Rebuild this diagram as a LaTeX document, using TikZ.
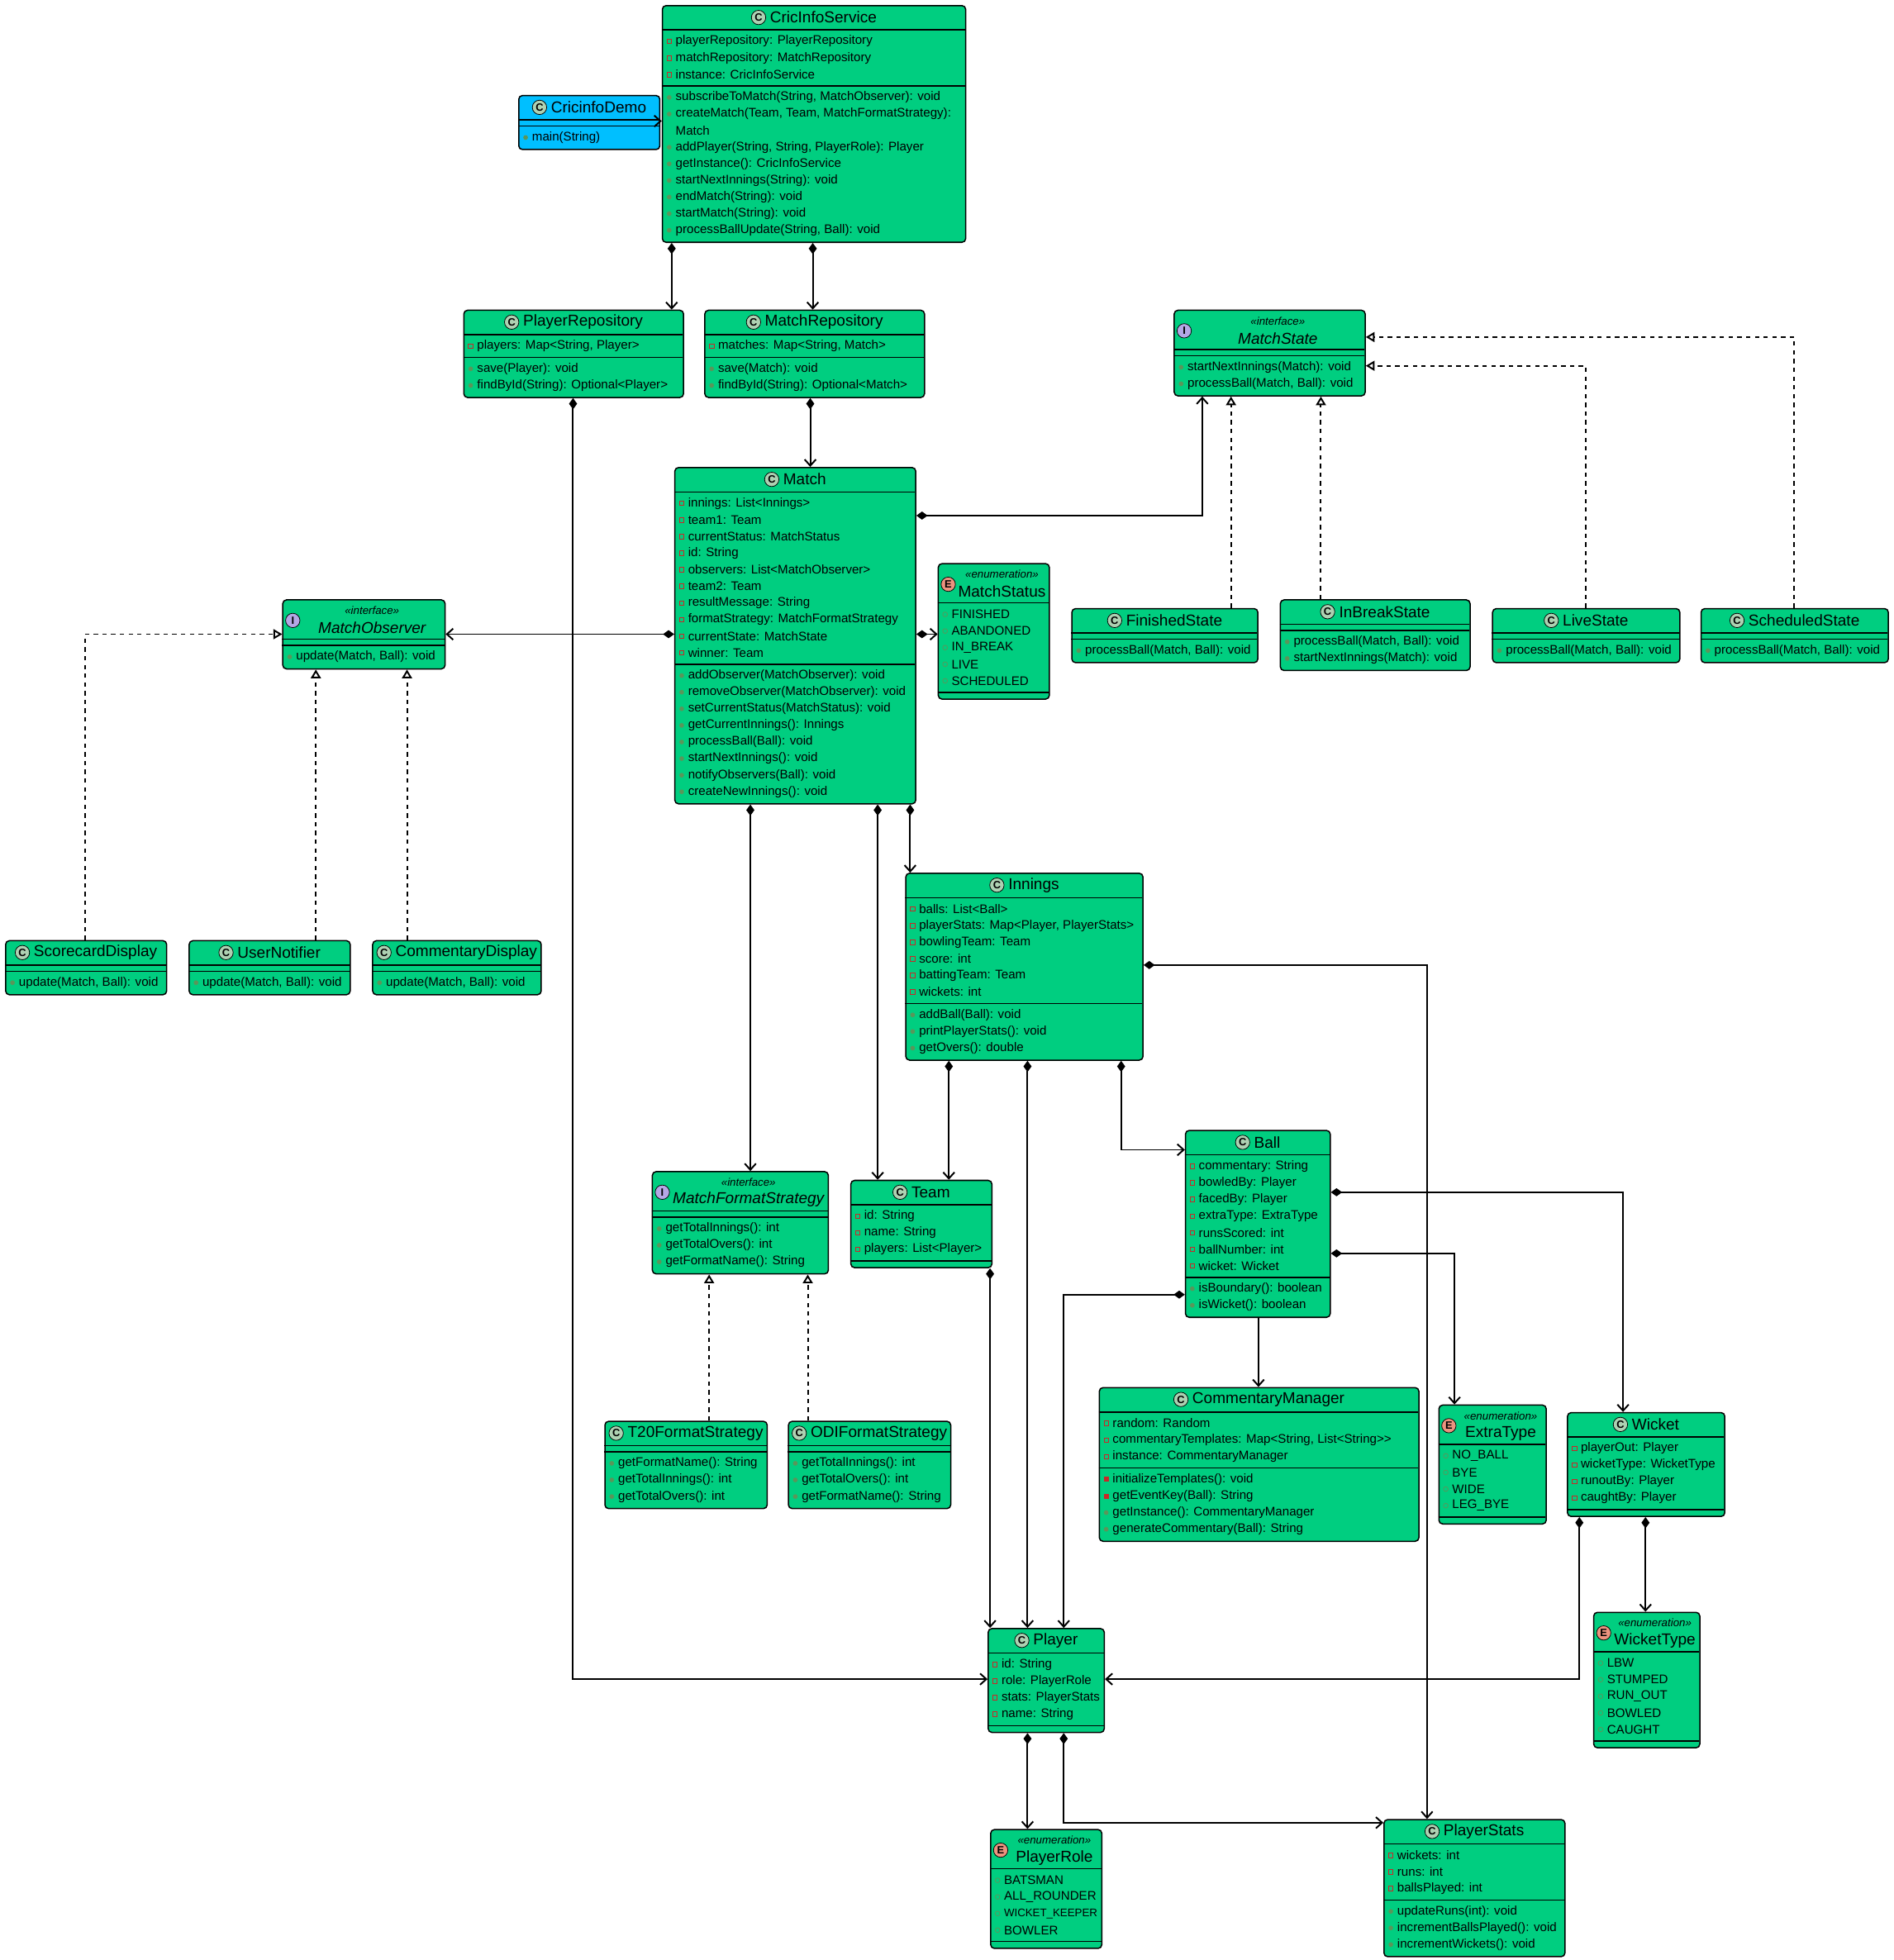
\documentclass[tikz,border=0pt]{standalone}
\usepackage{fontspec}
\setmainfont{Liberation Sans}
\usetikzlibrary{arrows.meta}
\definecolor{gr}{RGB}{0,206,128}
\definecolor{bl}{RGB}{0,191,255}
\definecolor{icC}{RGB}{173,209,178}
\definecolor{icI}{RGB}{180,167,229}
\definecolor{icE}{RGB}{235,147,127}
\definecolor{pubc}{RGB}{90,150,90}
\definecolor{privc}{RGB}{200,40,40}
\newcount\nf \newcount\nm
\tikzset{
 boxshape/.style={draw=black, line width=1pt, rounded corners=3pt, inner sep=0pt},
 itm/.style={anchor=west, inner sep=0pt, font=\fontsize{10}{11}\selectfont},
 ttl/.style={inner sep=0pt, font=\fontsize{12.6}{14}\selectfont},
 ster/.style={inner sep=0pt, font=\fontsize{8.8}{10}\selectfont\itshape},
 icn/.style={circle, draw=black, line width=0.5pt, inner sep=0pt, minimum size=11.5pt, font=\fontsize{8.5}{9}\selectfont\bfseries},
 comp/.style={line width=1.3pt, {Diamond[length=9pt,width=6.5pt]}-{Straight Barb[length=5pt,width=9pt]}},
 assoc/.style={line width=1.3pt, -{Straight Barb[length=5pt,width=9pt]}},
 real/.style={line width=1.3pt, dash pattern=on 3.5pt off 3.5pt, -{Triangle[open,fill=white,length=7pt,width=8pt]}},
}
\newcommand\mk[3]{%
 \if#1-\draw[draw=privc, line width=.5pt] ({#2-1.8},{#3-1.8}) rectangle ({#2+1.8},{#3+1.8});\fi
 \if#1=\fill[privc] ({#2-2},{#3-2}) rectangle ({#2+2},{#3+2});\fi
 \if#1+\fill[pubc] (#2,#3) circle (1.9pt);\fi
 \if#1o\draw[pubc, line width=.5pt] (#2,#3) circle (1.9pt);\fi
}
% name, x, y, w, kind, title, stereo, fields, methods
\newcommand\umlbox[9]{%
 \def\tmpst{#7}\def\tmpf{#8}\def\tmpm{#9}%
 \ifx\tmpst\empty\def\hh{20}\else\def\hh{32}\fi
 \global\nf=0 \ifx\tmpf\empty\else\foreach \v/\t in {#8}{\global\advance\nf by1 }\fi
 \global\nm=0 \ifx\tmpm\empty\else\foreach \v/\t in {#9}{\global\advance\nm by1 }\fi
 \pgfmathsetmacro\ya{#3+\hh}%
 \pgfmathsetmacro\yb{\ya+\the\nf*13.3+5}%
 \pgfmathsetmacro\yc{\yb+\the\nm*13.3+5}%
 \pgfmathsetmacro\hgt{\yc-#3}%
 \if#5D\def\fc{bl}\else\def\fc{gr}\fi
 \node[boxshape, fill=\fc, minimum width=#4 pt, minimum height=\hgt pt, anchor=north west] (#1) at (#2,#3) {};
 \draw[line width=1pt] (#2,\ya) -- ++(#4,0);
 \draw[line width=1pt] (#2,\yb) -- ++(#4,0);
 \if#5I\def\ts{\itshape}\else\def\ts{}\fi
 \if#5I\def\ic{icI}\else\if#5E\def\ic{icE}\else\def\ic{icC}\fi\fi
 \if#5D\def\il{C}\else\def\il{#5}\fi
 \ifx\tmpst\empty
  \pgfmathsetmacro\cx{#2+#4/2+8}%
  \node[ttl] (#1-t) at (\cx,{#3+10}) {\ts #6};
  \node[icn, fill=\ic] at ([xshift=-9pt]#1-t.west) {\il};
 \else
  \pgfmathsetmacro\cx{#2+#4/2+7}%
  \node[ster] at (\cx,{#3+9}) {«#7»};
  \node[ttl] (#1-t) at (\cx,{#3+23}) {\ts #6};
  \node[icn, fill=\ic] at ({#2+8.5},{#3+17}) {\il};
 \fi
 \ifx\tmpf\empty\else
 \foreach \v/\t [count=\i] in {#8}{%
  \pgfmathsetmacro\yy{\ya+9.15+(\i-1)*13.3}%
  \mk{\v}{#2+6}{\yy}%
  \node[itm] at ({#2+11},\yy) {\t};}%
 \fi
 \ifx\tmpm\empty\else
 \foreach \v/\t [count=\i] in {#9}{%
  \pgfmathsetmacro\yy{\yb+9.15+(\i-1)*13.3}%
  \mk{\v}{#2+6}{\yy}%
  \node[itm] at ({#2+11},\yy) {\t};}%
 \fi
}
\begin{document}
\begin{tikzpicture}[x=1pt,y=-1pt]
\fill[white] (0,0) rectangle (1517,1570);
\useasboundingbox (0,0) rectangle (1517,1570);

\umlbox{demo}{415}{76}{113}{D}{CricinfoDemo}{}{}{+/{main(String)}}
\umlbox{cis}{530}{4}{243}{C}{CricInfoService}{}{-/{playerRepository: PlayerRepository},-/{matchRepository: MatchRepository},-/{instance: CricInfoService}}{+/{subscribeToMatch(String, MatchObserver): void},+/{createMatch(Team, Team, MatchFormatStrategy):},n/{Match},+/{addPlayer(String, String, PlayerRole): Player},+/{getInstance(): CricInfoService},+/{startNextInnings(String): void},+/{endMatch(String): void},+/{startMatch(String): void},+/{processBallUpdate(String, Ball): void}}
\umlbox{prep}{371}{248}{176}{C}{PlayerRepository}{}{-/{players: Map<String, Player>}}{+/{save(Player): void},+/{findById(String): Optional<Player>}}
\umlbox{mrep}{564}{248}{176}{C}{MatchRepository}{}{-/{matches: Map<String, Match>}}{+/{save(Match): void},+/{findById(String): Optional<Match>}}
\umlbox{mstate}{940}{248}{153}{I}{MatchState}{interface}{}{+/{startNextInnings(Match): void},+/{processBall(Match, Ball): void}}
\umlbox{match}{540}{374}{193}{C}{Match}{}{-/{innings: List<Innings>},-/{team1: Team},-/{currentStatus: MatchStatus},-/{id: String},-/{observers: List<MatchObserver>},-/{team2: Team},-/{resultMessage: String},-/{formatStrategy: MatchFormatStrategy},-/{currentState: MatchState},-/{winner: Team}}{+/{addObserver(MatchObserver): void},+/{removeObserver(MatchObserver): void},+/{setCurrentStatus(MatchStatus): void},+/{getCurrentInnings(): Innings},+/{processBall(Ball): void},+/{startNextInnings(): void},+/{notifyObservers(Ball): void},+/{createNewInnings(): void}}
\umlbox{mstatus}{751}{451}{89}{E}{MatchStatus}{enumeration}{o/{FINISHED},o/{ABANDONED},o/{IN\_BREAK},o/{LIVE},o/{SCHEDULED}}{}
\umlbox{mobs}{226}{480}{130}{I}{MatchObserver}{interface}{}{+/{update(Match, Ball): void}}
\umlbox{fs}{858}{487}{149}{C}{FinishedState}{}{}{+/{processBall(Match, Ball): void}}
\umlbox{ibs}{1025}{480}{152}{C}{InBreakState}{}{}{+/{processBall(Match, Ball): void},+/{startNextInnings(Match): void}}
\umlbox{ls}{1195}{487}{150}{C}{LiveState}{}{}{+/{processBall(Match, Ball): void}}
\umlbox{ss}{1362}{487}{150}{C}{ScheduledState}{}{}{+/{processBall(Match, Ball): void}}
\umlbox{sc}{4}{753}{129}{C}{ScorecardDisplay}{}{}{+/{update(Match, Ball): void}}
\umlbox{un}{151}{753}{129}{C}{UserNotifier}{}{}{+/{update(Match, Ball): void}}
\umlbox{cd}{298}{753}{135}{C}{CommentaryDisplay}{}{}{+/{update(Match, Ball): void}}
\umlbox{inn}{725}{699}{190}{C}{Innings}{}{-/{balls: List<Ball>},-/{playerStats: Map<Player, PlayerStats>},-/{bowlingTeam: Team},-/{score: int},-/{battingTeam: Team},-/{wickets: int}}{+/{addBall(Ball): void},+/{printPlayerStats(): void},+/{getOvers(): double}}
\umlbox{mfs}{522}{938}{141}{I}{MatchFormatStrategy}{interface}{}{+/{getTotalInnings(): int},+/{getTotalOvers(): int},+/{getFormatName(): String}}
\umlbox{team}{681}{945}{113}{C}{Team}{}{-/{id: String},-/{name: String},-/{players: List<Player>}}{}
\umlbox{ball}{949}{905}{116}{C}{Ball}{}{-/{commentary: String},-/{bowledBy: Player},-/{facedBy: Player},-/{extraType: ExtraType},-/{runsScored: int},-/{ballNumber: int},-/{wicket: Wicket}}{+/{isBoundary(): boolean},+/{isWicket(): boolean}}
\umlbox{t20}{484}{1138}{130}{C}{T20FormatStrategy}{}{}{+/{getFormatName(): String},+/{getTotalInnings(): int},+/{getTotalOvers(): int}}
\umlbox{odi}{631}{1138}{130}{C}{ODIFormatStrategy}{}{}{+/{getTotalInnings(): int},+/{getTotalOvers(): int},+/{getFormatName(): String}}
\umlbox{cm}{880}{1111}{256}{C}{CommentaryManager}{}{-/{random: Random},-/{commentaryTemplates: Map<String, List<String>{}>},-/{instance: CommentaryManager}}{=/{initializeTemplates(): void},=/{getEventKey(Ball): String},+/{getInstance(): CommentaryManager},+/{generateCommentary(Ball): String}}
\umlbox{extra}{1152}{1125}{86}{E}{ExtraType}{enumeration}{o/{NO\_BALL},o/{BYE},o/{WIDE},o/{LEG\_BYE}}{}
\umlbox{wicket}{1255}{1131}{126}{C}{Wicket}{}{-/{playerOut: Player},-/{wicketType: WicketType},-/{runoutBy: Player},-/{caughtBy: Player}}{}
\umlbox{wtype}{1276}{1291}{85}{E}{WicketType}{enumeration}{o/{LBW},o/{STUMPED},o/{RUN\_OUT},o/{BOWLED},o/{CAUGHT}}{}
\umlbox{player}{791}{1304}{93}{C}{Player}{}{-/{id: String},-/{role: PlayerRole},-/{stats: PlayerStats},-/{name: String}}{}
\umlbox{prole}{793}{1465}{89}{E}{PlayerRole}{enumeration}{o/{BATSMAN},o/{ALL\_ROUNDER},o/{\fontsize{8.8}{10}\selectfont WICKET\_KEEPER},o/{BOWLER}}{}
\umlbox{pstats}{1108}{1457}{145}{C}{PlayerStats}{}{-/{wickets: int},-/{runs: int},-/{ballsPlayed: int}}{+/{updateRuns(int): void},+/{incrementBallsPlayed(): void},+/{incrementWickets(): void}}

\draw[assoc] (demo.east |- 0,97) -- (cis.west |- 0,97);
\draw[comp] (cis.south -| 538,0) -- (prep.north -| 538,0);
\draw[comp] (cis.south -| 651,0) -- (mrep.north -| 651,0);
\draw[comp] (mrep.south -| 649,0) -- (match.north -| 649,0);
\draw[comp] (prep.south -| 459,0) |- (player.west |- 0,1345);
\draw[comp] (match.east |- 0,413) -| (mstate.south -| 963,0);
\draw[comp] (match.west |- 0,508) -- (mobs.east |- 0,508);
\draw[comp] (match.east |- 0,508) -- (mstatus.west |- 0,508);
\draw[comp] (match.south -| 601,0) -- (mfs.north -| 601,0);
\draw[comp] (match.south -| 703,0) -- (team.north -| 703,0);
\draw[comp] (match.south -| 729,0) -- (inn.north -| 729,0);
\draw[comp] (inn.south -| 760,0) -- (team.north -| 760,0);
\draw[comp] (inn.south -| 823,0) -- (player.north -| 823,0);
\draw[comp] (inn.south -| 898,0) |- (ball.west |- 0,921);
\draw[comp] (inn.east |- 0,773) -| (pstats.north -| 1143,0);
\draw[comp] (team.south -| 793,0) -- (player.north -| 793,0);
\draw[comp] (ball.east |- 0,955) -| (wicket.north -| 1300,0);
\draw[comp] (ball.east |- 0,1004) -| (extra.north -| 1165,0);
\draw[comp] (ball.west |- 0,1037) -| (player.north -| 852,0);
\draw[assoc] (ball.south -| 1008,0) -- (cm.north -| 1008,0);
\draw[comp] (wicket.south -| 1318,0) -- (wtype.north -| 1318,0);
\draw[comp] (wicket.south -| 1265,0) |- (player.east |- 0,1345);
\draw[comp] (player.south -| 823,0) -- (prole.north -| 823,0);
\draw[comp] (player.south -| 852,0) |- (pstats.west |- 0,1460);

\draw[real] (sc.north -| 68,0) |- (mobs.west |- 0,508);
\draw[real] (un.north -| 253,0) -- (mobs.south -| 253,0);
\draw[real] (cd.north -| 326,0) -- (mobs.south -| 326,0);
\draw[real] (fs.north -| 986,0) -- (mstate.south -| 986,0);
\draw[real] (ibs.north -| 1058,0) -- (mstate.south -| 1058,0);
\draw[real] (ls.north -| 1270,0) |- (mstate.east |- 0,293);
\draw[real] (ss.north -| 1437,0) |- (mstate.east |- 0,270);
\draw[real] (t20.north -| 568,0) -- (mfs.south -| 568,0);
\draw[real] (odi.north -| 647,0) -- (mfs.south -| 647,0);
\end{tikzpicture}
\end{document}
